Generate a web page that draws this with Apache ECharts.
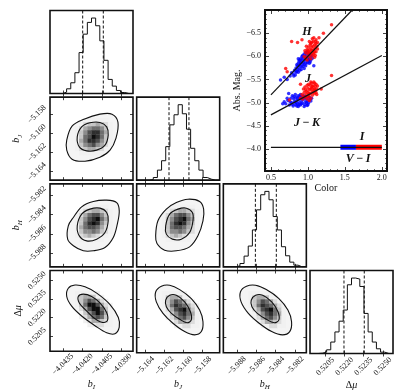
<!DOCTYPE html>
<html>
<head>
<meta charset="utf-8">
<style>html,body{margin:0;background:#fff}#chart{width:415px;height:392px}</style>
</head>
<body>
<div id="chart"></div>
<script src="https://cdn.jsdelivr.net/npm/echarts@6/dist/echarts.min.js"></script>
<script>
// ---- corner plot parameters (b_I, b_J, b_H, delta mu)
var rangeI = [-4.0445, -4.0381];
var rangeJ = [-5.1649, -5.1562];
var rangeH = [-5.9894, -5.9808];
var rangeMu = [0.5193, 0.5258];

var ticksI = [-4.0435, -4.0420, -4.0405, -4.0390];
var ticksJ = [-5.164, -5.162, -5.160, -5.158];
var ticksH = [-5.988, -5.986, -5.984, -5.982];
var ticksMu = [0.5205, 0.5220, 0.5235, 0.5250];

var labelsI = ['−4.0435', '−4.0420', '−4.0405', '−4.0390'];
var labelsJ = ['−5.164', '−5.162', '−5.160', '−5.158'];
var labelsH = ['−5.988', '−5.986', '−5.984', '−5.982'];
var labelsMu = ['0.5205', '0.5220', '0.5235', '0.5250'];

// marginal histograms, 20 bins over each range
var histI = [0, 0, 0, 4, 14, 32, 62, 122, 177, 212, 225, 202, 157, 99, 42, 22, 9, 3, 0, 0];
var histJ = [0, 0, 0, 2, 8, 30, 58, 100, 165, 195, 225, 198, 152, 95, 58, 30, 8, 3, 0, 0];
var histH = [0, 0, 0, 3, 10, 32, 62, 110, 170, 215, 225, 200, 150, 110, 60, 33, 14, 5, 0, 0];
var histMu = [0, 0, 1, 4, 11, 34, 64, 96, 129, 204, 224, 221, 199, 119, 64, 34, 14, 4, 0, 0];

// 16% / 84% quantiles
var quantI = [-4.04198, -4.04039];
var quantJ = [-5.16151, -5.15942];
var quantH = [-5.98608, -5.98391];
var quantMu = [0.52196, 0.52355];

// contour lines of the 2-d panels
var outerJI = [[-4.04321,-5.16071],[-4.04280,-5.15924],[-4.04188,-5.15851],[-4.04065,-5.15798],[-4.03972,-5.15798],[-4.03926,-5.15882],[-4.03941,-5.16050],[-4.03987,-5.16175],[-4.04065,-5.16249],[-4.04180,-5.16291],[-4.04280,-5.16270],[-4.04321,-5.16175]];
var innerJI = [[-4.04240,-5.16036],[-4.04206,-5.15931],[-4.04142,-5.15889],[-4.04065,-5.15885],[-4.04013,-5.15931],[-4.04001,-5.16018],[-4.04026,-5.16123],[-4.04090,-5.16175],[-4.04167,-5.16183],[-4.04224,-5.16141]];
var outerHI = [[-4.04309,-5.98515],[-4.04270,-5.98429],[-4.04206,-5.98318],[-4.04116,-5.98263],[-4.04013,-5.98249],[-4.03936,-5.98274],[-4.03916,-5.98360],[-4.03931,-5.98498],[-4.03962,-5.98636],[-4.04026,-5.98740],[-4.04116,-5.98774],[-4.04193,-5.98774],[-4.04270,-5.98722],[-4.04314,-5.98653]];
var innerHI = [[-4.04240,-5.98515],[-4.04206,-5.98394],[-4.04142,-5.98342],[-4.04065,-5.98332],[-4.04013,-5.98377],[-4.04001,-5.98463],[-4.04026,-5.98585],[-4.04090,-5.98653],[-4.04167,-5.98671],[-4.04224,-5.98619]];
var outerHJ = [[-5.16291,-5.98619],[-5.16267,-5.98463],[-5.16179,-5.98342],[-5.16074,-5.98274],[-5.15952,-5.98239],[-5.15830,-5.98263],[-5.15788,-5.98342],[-5.15795,-5.98463],[-5.15848,-5.98619],[-5.15935,-5.98733],[-5.16074,-5.98774],[-5.16197,-5.98767],[-5.16277,-5.98699]];
var innerHJ = [[-5.16186,-5.98515],[-5.16144,-5.98394],[-5.16057,-5.98342],[-5.15969,-5.98332],[-5.15906,-5.98377],[-5.15900,-5.98463],[-5.15935,-5.98585],[-5.16022,-5.98653],[-5.16116,-5.98653],[-5.16179,-5.98601]];
var outerMuI = [[-4.04321,0.52371],[-4.04309,0.52437],[-4.04257,0.52463],[-4.04180,0.52449],[-4.04090,0.52398],[-4.03987,0.52306],[-4.03923,0.52202],[-4.03916,0.52124],[-4.03949,0.52071],[-4.04013,0.52079],[-4.04103,0.52136],[-4.04206,0.52214],[-4.04283,0.52293]];
var innerMuI = [[-4.04232,0.52371],[-4.04193,0.52390],[-4.04129,0.52371],[-4.04065,0.52319],[-4.04013,0.52241],[-4.04008,0.52175],[-4.04051,0.52163],[-4.04116,0.52202],[-4.04180,0.52267],[-4.04224,0.52319]];
var outerMuJ = [[-5.16291,0.52410],[-5.16231,0.52455],[-5.16144,0.52463],[-5.16039,0.52429],[-5.15917,0.52358],[-5.15830,0.52267],[-5.15795,0.52175],[-5.15812,0.52097],[-5.15882,0.52071],[-5.15987,0.52097],[-5.16110,0.52163],[-5.16214,0.52241],[-5.16284,0.52332]];
var innerMuJ = [[-5.16186,0.52345],[-5.16144,0.52384],[-5.16074,0.52384],[-5.15987,0.52332],[-5.15927,0.52254],[-5.15917,0.52189],[-5.15963,0.52167],[-5.16039,0.52194],[-5.16126,0.52241],[-5.16179,0.52293]];
var outerMuH = [[-5.98763,0.52410],[-5.98700,0.52455],[-5.98606,0.52463],[-5.98495,0.52429],[-5.98364,0.52358],[-5.98271,0.52267],[-5.98233,0.52175],[-5.98252,0.52097],[-5.98327,0.52071],[-5.98439,0.52097],[-5.98569,0.52163],[-5.98681,0.52241],[-5.98756,0.52332]];
var innerMuH = [[-5.98651,0.52345],[-5.98606,0.52384],[-5.98532,0.52384],[-5.98439,0.52332],[-5.98374,0.52254],[-5.98364,0.52189],[-5.98413,0.52167],[-5.98495,0.52194],[-5.98588,0.52241],[-5.98644,0.52293]];

// 2-d histogram grey levels (0-9), bins 6..14 across, rows 5..13 from the top
var DEN_COL0 = 6, DEN_ROW0 = 5;
var denJI = ['001111110', '012334321', '124566531', '135788641', '136798631', '146887531', '135675421', '123443210', '011111100'];
var denHI = ['001111110', '012344321', '124677531', '135789641', '136898531', '146776421', '135565321', '123432110', '011111100'];
var denHJ = ['001111110', '012344321', '124677531', '135789641', '136898531', '136776421', '135565321', '123432110', '011111100'];
var denMuI = ['111111000', '134431100', '135764210', '136997421', '024799631', '013579741', '012467631', '001244321', '000112211'];
var denMuJ = ['111111000', '134431100', '135764210', '136876421', '024789631', '013578641', '012467531', '001244321', '000112211'];
var denMuH = ['111111000', '134431100', '135764210', '136876421', '024789631', '013578641', '012467531', '001244321', '000112211'];

// ---- inset: absolute magnitude vs colour
var hBlue = [[0.80,-5.62],[0.82,-5.70],[0.83,-5.60],[0.84,-5.75],[0.85,-5.68],[0.86,-5.80],[0.86,-5.72],[0.87,-5.85],[0.88,-5.76],[0.88,-5.90],[0.89,-5.82],[0.90,-5.95],[0.90,-5.86],[0.91,-5.78],[0.92,-5.92],[0.92,-6.00],[0.93,-5.84],[0.94,-5.96],[0.94,-5.88],[0.95,-6.05],[0.96,-5.92],[0.96,-6.00],[0.97,-5.86],[0.98,-6.02],[0.98,-5.94],[0.99,-6.10],[1.00,-5.98],[1.00,-5.90],[1.01,-6.05],[1.02,-5.95],[1.03,-6.00],[1.04,-5.92],[1.05,-6.02],[0.89,-5.70],[0.93,-5.78],[0.97,-5.80],[1.02,-5.85],[0.87,-5.95],[0.76,-5.58],[0.72,-5.50],
  [0.78,-5.65],[0.81,-5.58],[0.84,-5.66],[0.85,-5.82],[0.87,-5.66],[0.89,-5.92],[0.91,-5.88],[0.93,-6.02],[0.95,-5.82],[0.99,-5.86],[1.01,-5.92],[1.03,-5.88],[0.95,-5.74],[0.91,-5.72],[0.97,-6.08],[1.06,-5.96]];
var hRed = [[0.95,-6.00],[0.97,-6.08],[0.98,-5.98],[0.99,-6.15],[1.00,-6.05],[1.01,-6.20],[1.01,-6.10],[1.02,-6.00],[1.03,-6.15],[1.03,-6.25],[1.04,-6.08],[1.05,-6.20],[1.05,-6.30],[1.06,-6.12],[1.06,-6.02],[1.07,-6.22],[1.07,-6.32],[1.08,-6.15],[1.08,-6.05],[1.09,-6.25],[1.10,-6.18],[1.10,-6.32],[1.11,-6.10],[1.12,-6.22],[1.04,-5.95],[1.09,-5.98],[0.99,-5.92],[1.02,-6.32],[1.13,-6.30],[1.11,-6.36],
  [0.96,-6.12],[0.98,-6.22],[1.00,-6.12],[1.02,-6.08],[1.04,-6.28],[1.06,-6.38],[1.08,-6.40],[1.09,-6.10],[1.11,-6.28],[1.13,-6.16],[1.05,-6.14],[1.07,-6.08],[1.03,-6.05],[0.97,-5.95],[1.10,-6.02]];
var jBlue = [[0.70,-4.98],[0.73,-5.05],[0.75,-4.95],[0.77,-5.10],[0.78,-5.00],[0.80,-4.93],[0.81,-5.08],[0.82,-5.02],[0.83,-4.96],[0.84,-5.12],[0.85,-5.05],[0.86,-4.98],[0.87,-5.15],[0.87,-4.92],[0.88,-5.08],[0.89,-5.01],[0.90,-4.95],[0.91,-5.12],[0.92,-5.05],[0.93,-4.99],[0.94,-5.15],[0.95,-5.08],[0.96,-4.96],[0.97,-5.02],[0.98,-5.10],[0.99,-4.94],[1.00,-5.05],[1.01,-5.00],[1.02,-5.12],[1.04,-5.04],[0.79,-5.15],[0.83,-5.18],[0.90,-5.18],[0.95,-4.92],[1.05,-5.10],[0.68,-5.02],
  [0.72,-5.10],[0.76,-5.02],[0.79,-4.97],[0.81,-5.13],[0.85,-4.93],[0.86,-5.10],[0.88,-4.96],[0.91,-4.98],[0.93,-5.10],[0.96,-5.14],[0.98,-5.00],[1.00,-4.96],[1.03,-5.08],[0.84,-5.00],[0.89,-5.14]];
var jRed = [[0.90,-5.10],[0.92,-5.18],[0.93,-5.08],[0.95,-5.22],[0.96,-5.12],[0.97,-5.28],[0.98,-5.18],[0.99,-5.08],[1.00,-5.32],[1.00,-5.22],[1.01,-5.14],[1.02,-5.28],[1.03,-5.38],[1.03,-5.20],[1.04,-5.10],[1.05,-5.32],[1.05,-5.42],[1.06,-5.25],[1.06,-5.16],[1.07,-5.36],[1.08,-5.28],[1.08,-5.45],[1.09,-5.20],[1.10,-5.35],[1.10,-5.26],[1.11,-5.40],[1.12,-5.30],[0.94,-5.30],[1.02,-5.05],[1.12,-5.18],
  [0.94,-5.14],[0.96,-5.34],[0.98,-5.25],[1.00,-5.14],[1.01,-5.40],[1.02,-5.20],[1.04,-5.30],[1.04,-5.45],[1.06,-5.35],[1.07,-5.22],[1.09,-5.42],[1.09,-5.30],[1.11,-5.22],[0.99,-5.38],[1.13,-5.36]];
var strayRed = [[0.78,-6.32],[0.86,-6.30],[0.92,-6.36],[1.21,-6.50],[1.32,-6.68],[1.32,-5.59],[0.70,-5.74],[0.72,-5.67],[0.75,-5.06],[0.90,-5.40],[1.15,-6.40],[1.18,-5.30]];
var strayBlue = [[0.63,-5.49],[0.68,-5.55],[0.66,-4.98],[0.74,-5.20],[1.08,-5.80]];
var iBandBlue = [[1.44, -4.04], [1.65, -4.04]];
var iBandRed = [[1.65, -4.04], [2.00, -4.04]];
var fitH = [[0.5, -5.17], [1.6, -7.0]];
var fitJ = [[0.5, -4.74], [2.0, -6.02]];
var fitI = [[0.5, -4.04], [2.0, -4.04]];

var FONT = 'Liberation Serif';
var INK = '#111111';
var GRAYS = ['', '#f1f1f1', '#dcdcdc', '#c6c6c6', '#aaaaaa', '#8c8c8c', '#6e6e6e', '#4e4e4e', '#2e2e2e', '#0e0e0e'];
var RICH = {
  i: {fontFamily: FONT, fontStyle: 'italic', fontSize: 10, lineHeight: 13, color: INK},
  s: {fontFamily: FONT, fontStyle: 'italic', fontSize: 7, lineHeight: 7, verticalAlign: 'bottom', color: INK},
  n: {fontFamily: FONT, fontSize: 10, lineHeight: 13, color: INK}
};

var paramRanges = [rangeI, rangeJ, rangeH, rangeMu];
var paramTicks = [ticksI, ticksJ, ticksH, ticksMu];
var paramLabels = [labelsI, labelsJ, labelsH, labelsMu];
var paramTitles = ['{i|b}{s|I}', '{i|b}{s|J}', '{i|b}{s|H}', '{n|Δ}{i|μ}'];
var hists = [histI, histJ, histH, histMu];
var quants = [quantI, quantJ, quantH, quantMu];
var panels2d = [
  {r: 1, c: 0, outer: outerJI, inner: innerJI, den: denJI},
  {r: 2, c: 0, outer: outerHI, inner: innerHI, den: denHI},
  {r: 2, c: 1, outer: outerHJ, inner: innerHJ, den: denHJ},
  {r: 3, c: 0, outer: outerMuI, inner: innerMuI, den: denMuI},
  {r: 3, c: 1, outer: outerMuJ, inner: innerMuJ, den: denMuJ},
  {r: 3, c: 2, outer: outerMuH, inner: innerMuH, den: denMuH}
];

var SIZE = 83, STEP = 86.67, LEFT0 = 50, TOP0 = 10.5;
var grids = [], xAxes = [], yAxes = [], series = [];

function addGrid(box) {
  grids.push(Object.assign({show: true, borderColor: INK, borderWidth: 1.6, backgroundColor: 'transparent'}, box));
  return grids.length - 1;
}

// main axes plus tick-only mirrors on top / right
function addAxes(gi, xCfg, yCfg) {
  var xi = xAxes.length;
  xAxes.push(Object.assign({}, xCfg, {gridIndex: gi, position: 'bottom'}));
  xAxes.push(Object.assign({}, xCfg, {gridIndex: gi, position: 'top', name: '', axisLabel: {show: false}, minorTick: Object.assign({}, xCfg.minorTick)}));
  var yi = yAxes.length;
  yAxes.push(Object.assign({}, yCfg, {gridIndex: gi, position: 'left'}));
  yAxes.push(Object.assign({}, yCfg, {gridIndex: gi, position: 'right', name: '', axisLabel: {show: false}, minorTick: Object.assign({}, yCfg.minorTick)}));
  return [xi, yi];
}

function paramAxis(v, showLabel, isY) {
  var cfg = {
    type: 'value', min: paramRanges[v][0], max: paramRanges[v][1],
    axisLine: {show: false}, splitLine: {show: false},
    axisTick: {show: true, inside: true, length: 3, customValues: paramTicks[v], lineStyle: {color: INK, width: 0.8}},
    axisLabel: {
      show: showLabel, customValues: paramTicks[v], rotate: 45, align: 'center', verticalAlign: 'middle',
      margin: 13, fontFamily: FONT, fontSize: 8, color: INK,
      formatter: function (val) {
        var t = paramTicks[v];
        for (var k = 0; k < t.length; k++) if (Math.abs(t[k] - val) < 1e-7) return paramLabels[v][k];
        return '';
      }
    }
  };
  if (showLabel) {
    cfg.name = paramTitles[v];
    cfg.nameLocation = 'middle';
    cfg.nameGap = isY ? 24 : 22;
    cfg.nameRotate = isY ? 90 : 0;
    cfg.nameTextStyle = {rich: RICH};
  }
  return cfg;
}

function panelBox(r, c) {
  return {left: LEFT0 + c * STEP, top: TOP0 + r * STEP, width: SIZE, height: SIZE};
}

function polySeries(ax, pts, style) {
  return {
    type: 'custom', xAxisIndex: ax[0], yAxisIndex: ax[1], silent: true, clip: true,
    data: [pts[0]],
    renderItem: function (params, api) {
      var p = pts.map(function (q) { return api.coord(q); });
      return {type: 'polygon', shape: {points: p, smooth: 0.35}, style: style};
    }
  };
}

function cellData(v, w, rows) {
  var rx = paramRanges[v], ry = paramRanges[w];
  var dx = (rx[1] - rx[0]) / 20, dy = (ry[1] - ry[0]) / 20;
  var out = [];
  rows.forEach(function (s, k) {
    var jb = 19 - (DEN_ROW0 + k);
    for (var i = 0; i < s.length; i++) {
      var lv = +s[i];
      if (!lv) continue;
      var ib = DEN_COL0 + i;
      out.push([rx[0] + ib * dx, rx[0] + (ib + 1) * dx, ry[0] + jb * dy, ry[0] + (jb + 1) * dy, lv]);
    }
  });
  return out;
}

// diagonal: 1-d histograms with dashed quantile lines
for (var d = 0; d < 4; d++) {
  var gi = addGrid(panelBox(d, d));
  var hmax = Math.max.apply(null, hists[d]) * 1.1;
  var ax = addAxes(gi, paramAxis(d, d === 3, false),
    {type: 'value', min: 0, max: hmax, axisLine: {show: false}, splitLine: {show: false}, axisTick: {show: false}, axisLabel: {show: false}});
  var r = paramRanges[d], bw = (r[1] - r[0]) / 20;
  var hd = hists[d].map(function (c, i) { return [r[0] + i * bw, c]; });
  hd.push([r[1], hists[d][19]]);
  series.push({
    type: 'line', step: 'end', xAxisIndex: ax[0], yAxisIndex: ax[1], data: hd, symbol: 'none', silent: true,
    lineStyle: {color: INK, width: 1}
  });
  quants[d].forEach(function (q) {
    series.push({
      type: 'line', xAxisIndex: ax[0], yAxisIndex: ax[1], data: [[q, 0], [q, hmax]], symbol: 'none', silent: true,
      lineStyle: {color: INK, width: 1, type: [3, 2]}
    });
  });
}

// lower triangle: 2-d densities with contours
panels2d.forEach(function (p) {
  var gi = addGrid(panelBox(p.r, p.c));
  var ax = addAxes(gi, paramAxis(p.c, p.r === 3, false), paramAxis(p.r, p.c === 0, true));
  series.push(polySeries(ax, p.outer, {fill: '#f4f4f4', stroke: null}));
  series.push({
    type: 'custom', xAxisIndex: ax[0], yAxisIndex: ax[1], silent: true, clip: true,
    encode: {x: [0, 1], y: [2, 3]},
    data: cellData(p.c, p.r, p.den),
    renderItem: function (params, api) {
      var a = api.coord([api.value(0), api.value(3)]);
      var b = api.coord([api.value(1), api.value(2)]);
      return {type: 'rect', shape: {x: a[0], y: a[1], width: b[0] - a[0] + 0.3, height: b[1] - a[1] + 0.3},
        style: {fill: GRAYS[api.value(4)]}};
    }
  });
  series.push(polySeries(ax, p.outer, {fill: 'none', stroke: INK, lineWidth: 1.1}));
  series.push(polySeries(ax, p.inner, {fill: 'none', stroke: INK, lineWidth: 1.1}));
});

// inset
var giIn = addGrid({left: 265, top: 10, width: 122, height: 161, borderWidth: 2});
var tickStyle = {show: true, inside: true, length: 4, lineStyle: {color: INK, width: 0.8}};
var minorStyle = {show: true, splitNumber: 5, length: 2, lineStyle: {color: INK, width: 0.6}};
var axIn = addAxes(giIn,
  {type: 'value', min: 0.42, max: 2.07, splitNumber: 3, axisLine: {show: false}, splitLine: {show: false},
    axisTick: tickStyle, minorTick: minorStyle,
    axisLabel: {margin: 3, fontFamily: FONT, fontSize: 8, color: INK, showMinLabel: false, showMaxLabel: false,
      formatter: function (v) { return v.toFixed(1); }},
    name: 'Color', nameLocation: 'middle', nameGap: 11, nameTextStyle: {fontFamily: FONT, fontSize: 10, color: INK}},
  {type: 'value', inverse: true, min: -7.0, max: -3.53, splitNumber: 7, axisLine: {show: false}, splitLine: {show: false},
    axisTick: tickStyle, minorTick: minorStyle,
    axisLabel: {margin: 4, fontFamily: FONT, fontSize: 8, color: INK, showMinLabel: false, showMaxLabel: false,
      formatter: function (v) { return v.toFixed(1).replace('-', '−'); }},
    name: 'Abs. Mag.', nameLocation: 'middle', nameGap: 22, nameRotate: 90, nameTextStyle: {fontFamily: FONT, fontSize: 10, color: INK}}
);
function bandSeries(data, color) {
  return {type: 'line', xAxisIndex: axIn[0], yAxisIndex: axIn[1], data: data, symbol: 'none', silent: true,
    lineStyle: {color: color, width: 5}};
}
function dotSeries(data, color) {
  return {type: 'scatter', xAxisIndex: axIn[0], yAxisIndex: axIn[1], data: data, symbol: 'circle', symbolSize: 3.5,
    silent: true, itemStyle: {color: color}};
}
function fitSeries(data) {
  return {type: 'line', xAxisIndex: axIn[0], yAxisIndex: axIn[1], data: data, symbol: 'none', silent: true, z: 5,
    lineStyle: {color: INK, width: 1.2}};
}
series.push(bandSeries(iBandBlue, '#0000ff'), bandSeries(iBandRed, '#ff0000'));
series.push(dotSeries(hBlue, '#0000ff'), dotSeries(jBlue, '#0000ff'), dotSeries(strayBlue, '#0000ff'));
series.push(dotSeries(hRed, '#ff0000'), dotSeries(jRed, '#ff0000'), dotSeries(strayRed, '#ff0000'));
series.push(fitSeries(fitH), fitSeries(fitJ), fitSeries(fitI));

var labelFont = 'italic bold 12px "Liberation Serif"';
function insetText(x, y, t) {
  return {type: 'text', x: x, y: y, z: 10, style: {text: t, font: labelFont, fill: INK, align: 'center', verticalAlign: 'middle'}};
}

var chart = echarts.init(document.getElementById('chart'), null, {renderer: 'canvas'});
chart.setOption({
  animation: false,
  backgroundColor: '#fff',
  grid: grids,
  xAxis: xAxes,
  yAxis: yAxes,
  series: series,
  graphic: [
    insetText(307, 32, 'H'),
    insetText(308, 79, 'J'),
    insetText(307, 123, 'J\u2009−\u2009K'),
    insetText(362, 137, 'I'),
    insetText(358, 159, 'V\u2009−\u2009I')
  ]
});
</script>
</body>
</html>
